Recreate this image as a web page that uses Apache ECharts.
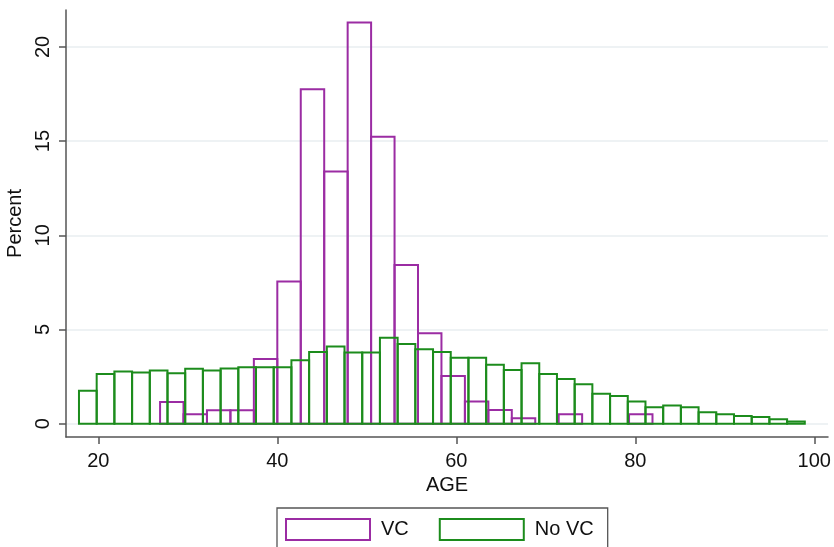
<!DOCTYPE html>
<html>
<head>
<meta charset="utf-8">
<script src="https://cdn.jsdelivr.net/npm/echarts@6/dist/echarts.min.js"></script>
<style>
html,body{margin:0;padding:0;background:#fff;}
#chart{width:834px;height:547px;}
</style>
</head>
<body>
<div id="chart"></div>
<script>
// ---- Data ----
const seriesNames = ['VC', 'No VC'];
// VC histogram: 21 bins from age 26.9, width 2.62
const vcStart = 26.9;
const vcBinWidth = 2.62;
const vcPercent = [1.15, 0.50, 0.71, 0.71, 3.43, 7.54, 17.75, 13.38, 21.30, 15.23, 8.42,
                   4.80, 2.53, 1.17, 0.73, 0.28, 0, 0.50, 0, 0, 0.50];
// No VC histogram: 41 bins from age 17.84, width 1.978
const noVcStart = 17.84;
const noVcBinWidth = 1.978;
const noVcPercent = [1.74, 2.63, 2.77, 2.72, 2.82, 2.68, 2.91, 2.82, 2.93, 2.99,
                     2.99, 2.99, 3.36, 3.80, 4.09, 3.77, 3.77, 4.56, 4.23, 3.95,
                     3.80, 3.50, 3.50, 3.12, 2.85, 3.21, 2.64, 2.37, 2.09, 1.58,
                     1.47, 1.17, 0.87, 0.96, 0.87, 0.61, 0.50, 0.41, 0.35, 0.23, 0.11];
const xTicks = [20, 40, 60, 80, 100];
const yTicks = [0, 5, 10, 15, 20];

const purple = '#9b2ca3';
const green = '#1c8c1c';

function toBins(start, width, vals) {
  const out = [];
  vals.forEach((v, i) => {
    if (v > 0) out.push([start + i * width, start + (i + 1) * width, v]);
  });
  return out;
}

function makeRender(color) {
  return function (params, api) {
    const x0 = api.value(0), x1 = api.value(1), y = api.value(2);
    const p0 = api.coord([x0, 0]);
    const p1 = api.coord([x1, y]);
    return {
      type: 'rect',
      shape: { x: p0[0], y: p1[1], width: p1[0] - p0[0], height: p0[1] - p1[1] },
      style: { fill: 'none', stroke: color, lineWidth: 2 }
    };
  };
}

const font = 'Liberation Sans, Arial, Helvetica, sans-serif';
const chart = echarts.init(document.getElementById('chart'), null, { renderer: 'canvas' });

chart.setOption({
  animation: false,
  backgroundColor: '#ffffff',
  grid: { left: 66, right: 6, top: 10, bottom: 110, containLabel: false, outerBoundsMode: 'none' },
  xAxis: {
    type: 'value',
    min: 16.39,
    max: 101.53,
    name: 'AGE',
    nameLocation: 'middle',
    nameGap: 36,
    nameTextStyle: { fontFamily: font, fontSize: 20, color: '#111' },
    axisLine: { show: true, onZero: false, lineStyle: { color: '#555', width: 1.5 } },
    axisTick: { show: true, length: 7, customValues: xTicks, lineStyle: { color: '#555', width: 1.5 } },
    axisLabel: { customValues: xTicks, margin: 14, fontFamily: font, fontSize: 20, color: '#111' },
    splitLine: { show: false }
  },
  yAxis: {
    type: 'value',
    min: -0.71,
    max: 21.96,
    name: 'Percent',
    nameLocation: 'middle',
    nameGap: 37,
    nameTextStyle: { fontFamily: font, fontSize: 20, color: '#111' },
    axisLine: { show: true, onZero: false, lineStyle: { color: '#555', width: 1.5 } },
    axisTick: { show: true, length: 7, customValues: yTicks, lineStyle: { color: '#555', width: 1.5 } },
    axisLabel: { customValues: yTicks, rotate: 90, margin: 13, fontFamily: font, fontSize: 20, color: '#111' },
    splitLine: { show: false }
  },
  legend: {
    left: 277,
    top: 508,
    orient: 'horizontal',
    itemWidth: 84,
    itemHeight: 21,
    itemGap: 30,
    padding: [10, 14, 20, 8],
    borderColor: '#555',
    borderWidth: 1.3,
    textStyle: { fontFamily: font, fontSize: 20, color: '#111', padding: [0, 0, 0, 6] },
    data: [
      { name: seriesNames[0], icon: 'rect', itemStyle: { color: 'transparent', borderColor: purple, borderWidth: 2 } },
      { name: seriesNames[1], icon: 'rect', itemStyle: { color: 'transparent', borderColor: green, borderWidth: 2 } }
    ]
  },
  series: [
    {
      name: 'grid',
      type: 'line',
      data: [],
      silent: true,
      z: 0,
      markLine: {
        silent: true,
        symbol: 'none',
        z: 0,
        label: { show: false },
        lineStyle: { color: '#e8eef0', width: 1.5, type: 'solid' },
        data: yTicks.map(v => ({ yAxis: v }))
      }
    },
    {
      name: seriesNames[0],
      type: 'custom',
      z: 5,
      renderItem: makeRender(purple),
      itemStyle: { color: 'transparent', borderColor: purple },
      encode: { x: [0, 1], y: 2 },
      data: toBins(vcStart, vcBinWidth, vcPercent)
    },
    {
      name: seriesNames[1],
      type: 'custom',
      z: 6,
      renderItem: makeRender(green),
      itemStyle: { color: 'transparent', borderColor: green },
      encode: { x: [0, 1], y: 2 },
      data: toBins(noVcStart, noVcBinWidth, noVcPercent)
    }
  ]
});
</script>
</body>
</html>
